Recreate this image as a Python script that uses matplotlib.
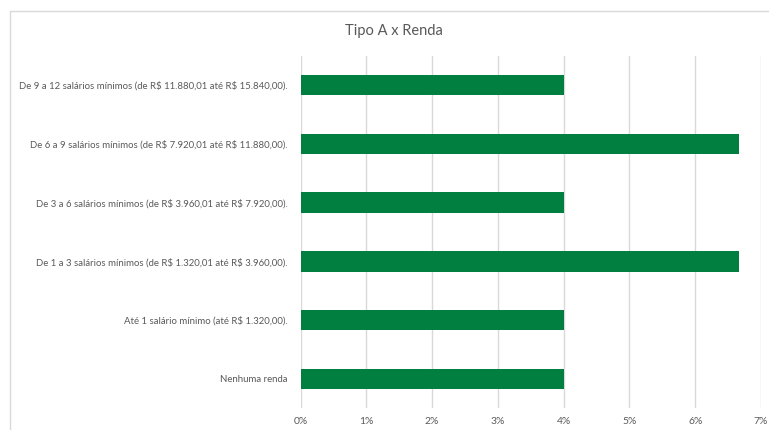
import matplotlib
matplotlib.use("Agg")
import matplotlib.pyplot as plt
from matplotlib.patches import Rectangle
from matplotlib.ticker import FuncFormatter

categories = [
    "Nenhuma renda",
    "Até 1 salário mínimo (até R$ 1.320,00).",
    "De 1 a 3 salários mínimos (de R$ 1.320,01 até R$ 3.960,00).",
    "De 3 a 6 salários mínimos (de R$ 3.960,01 até R$ 7.920,00).",
    "De 6 a 9 salários mínimos (de R$ 7.920,01 até R$ 11.880,00).",
    "De 9 a 12 salários mínimos (de R$ 11.880,01 até R$ 15.840,00).",
]
values = [0.04, 0.04, 0.0667, 0.04, 0.0667, 0.04]
xticks = [0, 0.01, 0.02, 0.03, 0.04, 0.05, 0.06, 0.07]

plt.rcParams['font.family'] = ['Lato', 'DejaVu Sans']
plt.rcParams['text.parse_math'] = False
text_color = "#595959"
grid_color = "#d9d9d9"
bar_color = "#007F41"

fig = plt.figure(figsize=(7.69, 4.30), dpi=100)
fig.patches.append(Rectangle((10/769, -0.1), 1.2, 1 - 11/430 + 0.1, transform=fig.transFigure,
                             fill=False, edgecolor=grid_color, linewidth=1))
ax = fig.add_axes([300.5/769, 1 - 408.4/430, (761 - 300.5)/769, (408.4 - 55.6)/430])

y = list(range(len(categories)))
ax.barh(y, values, height=0.35, color=bar_color, zorder=3)
ax.set_ylim(-0.5, len(categories) - 0.5)
ax.set_xlim(0, 0.07)
ax.set_xticks(xticks)
ax.xaxis.set_major_formatter(FuncFormatter(lambda v, p: f"{v*100:.0f}%"))
ax.set_yticks(y)
ax.set_yticklabels(categories)
ax.grid(axis='x', color=grid_color, linewidth=1, zorder=0)
for s in ax.spines.values():
    s.set_visible(False)
ax.tick_params(axis='y', length=0, colors=text_color, labelsize=6.9, pad=9.5)
ax.tick_params(axis='x', length=0, colors=text_color, labelsize=7.5, pad=6)
fig.text(394/769, 1 - 31/430, "Tipo A x Renda", ha='center', va='center', fontsize=10.5, color=text_color)

fig.savefig("out.png", dpi=100)
